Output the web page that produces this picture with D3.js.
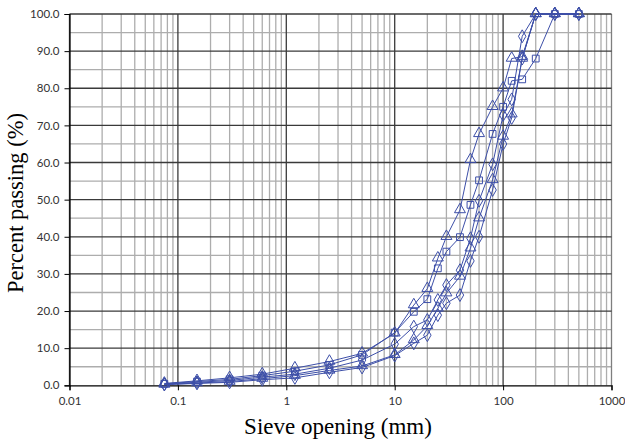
<!DOCTYPE html>
<html><head><meta charset="utf-8">
<script src="https://cdn.jsdelivr.net/npm/d3@7"></script>
<style>html,body{margin:0;padding:0;background:#fff}svg{display:block}</style>
</head><body>
<script>
// Sieve sizes (mm)
const sieves = [0.075,0.15,0.3,0.6,1.2,2.5,5,10,15,20,25,30,40,50,60,80,100,120,150,200,300,500];
// Percent passing per sample
const s1 = [0.5,1.2,2.0,3.0,4.6,6.4,8.6,14.0,21.6,26.0,34.2,40.0,47.2,60.7,67.7,75.0,80.0,88.0,88.5,100,100,100];
const s2 = [0.4,1.0,1.6,2.6,3.8,5.5,8.2,14.2,19.8,23.2,31.5,36.0,39.9,48.6,55.2,67.7,75.0,82.0,82.4,88.0,100,100];
const s3 = [0.3,0.8,1.3,2.2,3.0,4.6,6.8,11.1,15.8,17.6,23.0,27.0,31.0,39.6,49.7,59.5,72.8,77.0,94.0,100,100,100];
const s4 = [0.2,0.6,1.0,1.8,2.6,4.0,5.2,8.2,12.2,16.0,20.7,24.8,29.3,36.9,45.0,55.3,67.0,73.0,88.0,100,100,100];
const s5 = [0.2,0.5,0.8,1.5,2.0,3.5,4.8,8.0,11.3,13.5,18.9,22.1,24.3,33.5,40.0,52.6,65.0,72.0,88.0,100,100,100];
const seriesNames = ["S1","S2","S3","S4","S5"];
const seriesValues = [s1,s2,s3,s4,s5];
const seriesMarkers = ["triangle","square","diamond","triangle","diamond"];
const xTicks = [0.01,0.1,1,10,100,1000];
const yTicks = [0,10,20,30,40,50,60,70,80,90,100];

const W=625,H=444;
const svg=d3.select("body").append("svg").attr("width",W).attr("height",H);
const x=d3.scaleLog().domain([0.01,1000]).range([69.5,611.5]);
const y=d3.scaleLinear().domain([0,100]).range([385.3,14]);

// minor vertical grid
const minorX=[];
for(let e=-2;e<3;e++){for(let k=2;k<=9;k++){minorX.push(k*Math.pow(10,e));}}
const g=svg.append("g");
g.selectAll(".mvx").data(minorX).enter().append("line")
 .attr("x1",d=>x(d)).attr("x2",d=>x(d)).attr("y1",y(0)).attr("y2",y(100))
 .attr("stroke","#adadad").attr("stroke-width",1.3);
// minor horizontal grid (every 5)
g.selectAll(".mhy").data(d3.range(5,100,10)).enter().append("line")
 .attr("x1",x(0.01)).attr("x2",x(1000)).attr("y1",d=>y(d)).attr("y2",d=>y(d))
 .attr("stroke","#adadad").attr("stroke-width",1.3);
// major
g.selectAll(".Mvx").data(xTicks).enter().append("line")
 .attr("x1",d=>x(d)).attr("x2",d=>x(d)).attr("y1",y(0)).attr("y2",y(100))
 .attr("stroke",d=>d===1000?"#7f7f7f":"#3a3a3a").attr("stroke-width",1.3);
g.selectAll(".Mhy").data(yTicks.slice(1)).enter().append("line")
 .attr("x1",x(0.01)).attr("x2",x(1000)).attr("y1",d=>y(d)).attr("y2",d=>y(d))
 .attr("stroke","#3a3a3a").attr("stroke-width",1.3);

// axes
const xAxis=d3.axisBottom(x).tickValues(xTicks).tickFormat(d=>String(d)).tickSize(5).tickPadding(7);
const yAxis=d3.axisLeft(y).tickValues(yTicks).tickFormat(d=>d.toFixed(1)).tickSize(5).tickPadding(5);
const gx=svg.append("g").attr("transform",`translate(0,${y(0)})`).call(xAxis);
const gy=svg.append("g").attr("transform",`translate(${x(0.01)},0)`).call(yAxis);
[gx,gy].forEach(a=>{a.select(".domain").attr("stroke","#000").attr("stroke-width",1.2);
 a.selectAll(".tick line").attr("stroke","#000");
 a.selectAll("text").attr("font-family","Lato, 'Liberation Sans', sans-serif").attr("font-size",11.5).attr("fill","#333");});

// series
const col="#3d4fa8";
const line=d3.line().x((d,i)=>x(sieves[i])).y(d=>y(d));
const shapes={triangle:d3.symbolTriangle,square:d3.symbolSquare,diamond:d3.symbolDiamond};
const sizes={triangle:52,square:46,diamond:48};
seriesValues.forEach((vals,si)=>{
 svg.append("path").datum(vals).attr("d",line).attr("fill","none").attr("stroke",col).attr("stroke-width",1);
});
seriesValues.forEach((vals,si)=>{
 const m=seriesMarkers[si];
 svg.append("g").selectAll("path").data(vals).enter().append("path")
  .attr("d",d3.symbol().type(shapes[m]).size(sizes[m]))
  .attr("transform",(d,i)=>`translate(${x(sieves[i])},${y(d)+(m==="triangle"?-0.5:0)})`)
  .attr("fill","none").attr("stroke",col).attr("stroke-width",1);
});

// titles
svg.append("text").attr("x",338).attr("y",434).attr("text-anchor","middle")
 .attr("font-family","'Liberation Serif','Times New Roman',serif").attr("font-size",23).attr("fill","#000").text("Sieve opening (mm)");
svg.append("text").attr("transform","translate(23,203) rotate(-90)").attr("text-anchor","middle")
 .attr("font-family","'Liberation Serif','Times New Roman',serif").attr("font-size",22.5).attr("fill","#000").text("Percent passing (%)");
</script>
</body></html>
